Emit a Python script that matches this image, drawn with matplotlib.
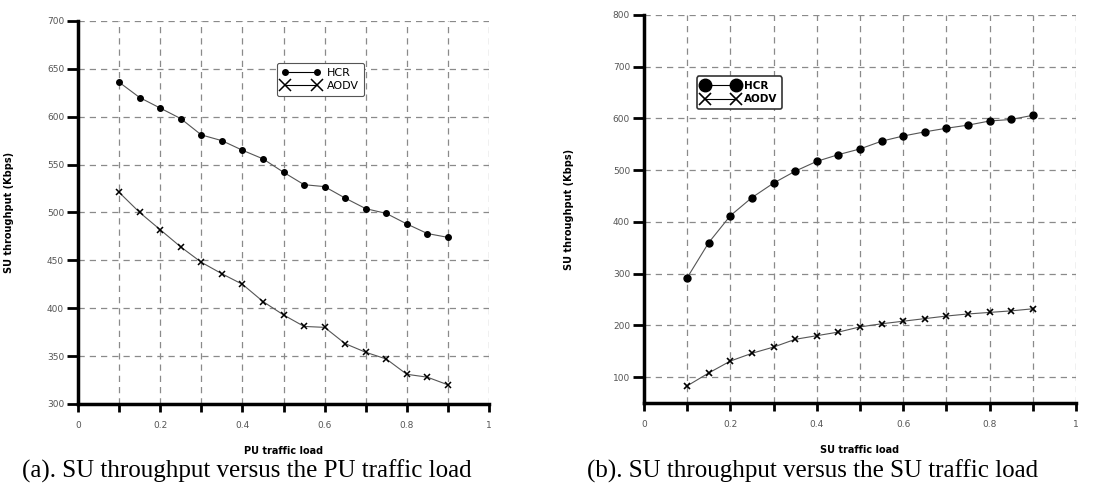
import numpy as np
import matplotlib.pyplot as plt

# data
load = [0.1, 0.15, 0.2, 0.25, 0.3, 0.35, 0.4, 0.45, 0.5, 0.55, 0.6, 0.65, 0.7, 0.75, 0.8, 0.85, 0.9]

pu_hcr = [636, 620, 609, 598, 581, 575, 565, 556, 542, 529, 527, 515, 504, 499, 488, 478, 474]
pu_aodv = [521, 500, 482, 464, 448, 436, 425, 407, 393, 381, 380, 363, 354, 347, 331, 328, 320]

su_hcr = [292, 360, 412, 447, 475, 498, 517, 530, 541, 556, 566, 574, 581, 587, 595, 598, 606]
su_aodv = [83, 108, 131, 146, 158, 173, 180, 187, 197, 203, 208, 213, 218, 222, 225, 228, 232]

xtick_vals = [0, 0.1, 0.2, 0.3, 0.4, 0.5, 0.6, 0.7, 0.8, 0.9, 1.0]
xtick_labels = ['0', '', '0.2', '', '0.4', '', '0.6', '', '0.8', '', '1']


def style_axes(ax, ylim, yticks, xlabel):
    ax.set_xlim(0, 1)
    ax.set_ylim(ylim)
    ax.set_xticks(xtick_vals)
    ax.set_xticklabels(xtick_labels)
    ax.set_yticks(yticks)
    for s in ['top', 'right']:
        ax.spines[s].set_visible(False)
    for s in ['left', 'bottom']:
        ax.spines[s].set_linewidth(2.5)
    ax.tick_params(axis='x', direction='out', length=6, width=2, labelsize=6.5,
                   labelcolor='#555555', pad=6)
    ax.tick_params(axis='y', direction='out', length=8, width=2, labelsize=6.5,
                   labelcolor='#555555', pad=2)
    ax.grid(True, color='#8a8a8a', linestyle=(0, (5, 4)), linewidth=0.9)
    ax.set_axisbelow(True)
    ax.set_xlabel(xlabel, fontsize=7, fontweight='bold', labelpad=12)


def main():
    fig = plt.figure(figsize=(11.18, 4.92), dpi=100)

    ax1 = fig.add_axes([0.0698, 0.1789, 0.3676, 0.7785])
    ax1.plot(load, pu_hcr, color='#555555', lw=0.8, marker='o', ms=4,
             mfc='black', mec='black', label='HCR')
    ax1.plot(load, pu_aodv, color='#555555', lw=0.8, marker='x', ms=4.5,
             mec='black', mew=1.1, label='AODV')
    style_axes(ax1, (300, 700), np.arange(300, 701, 50), 'PU traffic load')
    ax1.set_ylabel('SU throughput (Kbps)', fontsize=7, fontweight='bold', labelpad=24)
    leg = ax1.legend(loc='upper left', bbox_to_anchor=(0.47, 0.905), numpoints=2,
                     fontsize=8, frameon=True, fancybox=True, handlelength=3.5,
                     borderpad=0.45, labelspacing=0.3, handletextpad=0.6, framealpha=1)
    leg.get_frame().set_edgecolor('#555555')
    leg.get_frame().set_linewidth(0.8)
    for h in leg.legend_handles:
        h.set_color('black')
    leg.legend_handles[1].set_markersize(8)

    ax2 = fig.add_axes([0.576, 0.181, 0.3864, 0.7886])
    ax2.plot(load, su_hcr, color='#555555', lw=0.8, marker='o', ms=5,
             mfc='black', mec='black', label='HCR')
    ax2.plot(load, su_aodv, color='#555555', lw=0.8, marker='x', ms=5,
             mec='black', mew=1.2, label='AODV')
    style_axes(ax2, (50, 800), np.arange(100, 801, 100), 'SU traffic load')
    ax2.set_ylabel('SU throughput (Kbps)', fontsize=7, fontweight='bold', labelpad=28)
    leg2 = ax2.legend(loc='upper left', bbox_to_anchor=(0.11, 0.855), numpoints=2,
                      prop={'size': 7.5, 'weight': 'bold'}, frameon=True, fancybox=True,
                      handlelength=3.6, borderpad=0.45, labelspacing=0.3,
                      handletextpad=0.5, framealpha=1)
    leg2.get_frame().set_edgecolor('#333333')
    leg2.get_frame().set_linewidth(1.2)
    for h in leg2.legend_handles:
        h.set_color('black')
    leg2.legend_handles[0].set_markersize(9)
    leg2.legend_handles[1].set_markersize(8)

    fig.text(0.221, 0.03, '(a). SU throughput versus the PU traffic load',
             ha='center', fontsize=18, family='Liberation Serif')
    fig.text(0.727, 0.03, '(b). SU throughput versus the SU traffic load',
             ha='center', fontsize=18, family='Liberation Serif')

    plt.savefig('out.png', dpi=100)


if __name__ == '__main__':
    main()
